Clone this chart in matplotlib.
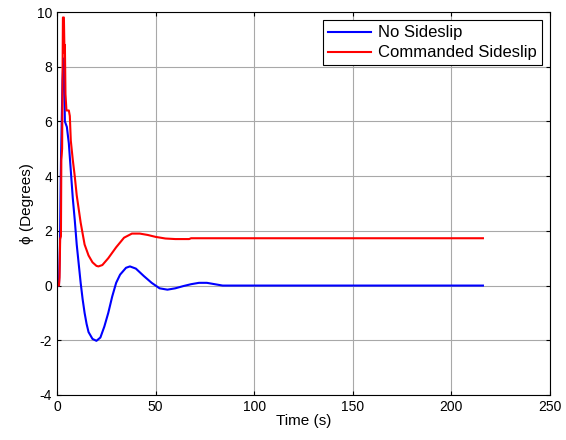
import matplotlib.pyplot as plt

plt.rcParams['font.family'] = ['Liberation Sans', 'DejaVu Sans']
plt.rcParams['axes.unicode_minus'] = False

# time (s) and roll angle (deg)
t_none = [0, 1, 1.5, 2, 2.8, 3.3, 3.7, 4, 5, 6, 7, 8, 9, 10, 11, 12, 13, 14, 15, 16,
          18, 20, 22, 24, 26, 28, 30, 32, 35, 37, 40, 44, 48, 52, 56, 60, 64, 68,
          72, 76, 80, 84, 216]
phi_none = [0, 0, 1.5, 4.5, 7.5, 8.3, 7.5, 6.0, 5.8, 5.2, 4.2, 3.2, 2.4, 1.5, 0.8,
            0.1, -0.5, -1.0, -1.4, -1.7, -1.95, -2.02, -1.9, -1.5, -1.0, -0.4, 0.1,
            0.4, 0.65, 0.7, 0.62, 0.35, 0.1, -0.1, -0.15, -0.1, -0.02, 0.05, 0.1,
            0.1, 0.05, 0.0, 0.0]

t_cmd = [0, 1, 1.3, 1.6, 2.0, 2.2, 2.6, 3.0, 3.5, 3.8, 4.0, 4.3, 4.8, 6.0, 6.5, 7,
         8, 9, 10, 11, 12, 13, 14, 16, 18, 20, 21, 23, 26, 30, 34, 38, 42, 46, 50,
         55, 60, 67, 68, 100, 216]
phi_cmd = [0, 0, 0.3, 1.7, 1.8, 4.6, 5.0, 9.8, 9.8, 8.5, 8.8, 7.0, 6.4, 6.4, 6.2,
           5.3, 4.6, 4.0, 3.3, 2.8, 2.3, 1.9, 1.5, 1.1, 0.85, 0.72, 0.7, 0.75, 1.0,
           1.4, 1.75, 1.9, 1.9, 1.85, 1.78, 1.72, 1.7, 1.7, 1.73, 1.73, 1.73]

fig = plt.figure(figsize=(5.66, 4.40), dpi=100)
ax = fig.add_axes([0.1007, 0.1023, 0.871, 0.8704])

ax.plot(t_none, phi_none, color='#0000ff', lw=1.5, label='No Sideslip')
ax.plot(t_cmd, phi_cmd, color='#ff0000', lw=1.5, label='Commanded Sideslip')

ax.set_xlim(0, 250)
ax.set_ylim(-4, 10)
ax.set_xticks(range(0, 251, 50))
ax.set_yticks(range(-4, 11, 2))
ax.grid(True, color='#a8a8a8', lw=0.8)
ax.tick_params(direction='in', top=True, right=True, labelsize=10, length=3)
for s in ax.spines.values():
    s.set_linewidth(0.8)

ax.set_xlabel('Time (s)', fontsize=11, labelpad=0)
ax.set_ylabel('ϕ (Degrees)', fontsize=11, labelpad=2)

leg = ax.legend(loc='upper right', fontsize=12, fancybox=False, framealpha=1,
                edgecolor='black', borderaxespad=0.5, handlelength=2.6,
                borderpad=0.3, labelspacing=0.3, handletextpad=0.4)
leg.get_frame().set_linewidth(0.8)

fig.savefig('out.png', dpi=100)
